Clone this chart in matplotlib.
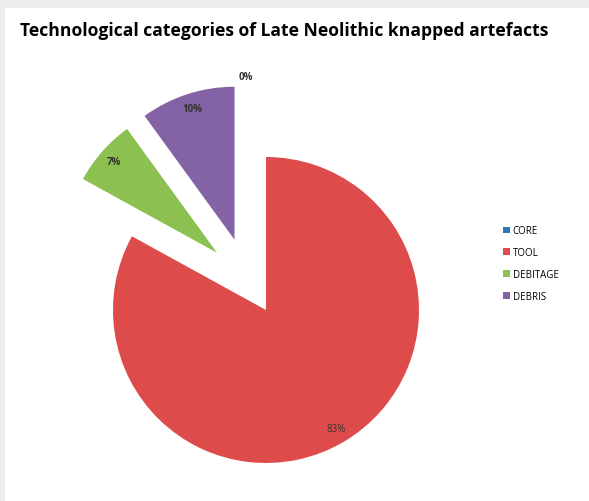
import matplotlib.pyplot as plt
from matplotlib.patches import Rectangle, Patch

# technological categories, percentages of the knapped assemblage
categories = ['CORE', 'TOOL', 'DEBITAGE', 'DEBRIS']
shares = [0, 83, 7, 10]
colors = ['#2E75B6', '#DE4B4B', '#8CC051', '#8462A6']
explode = [96, 0, 76, 76]            # in pixel units, as the axes are drawn in pixels
nudge = [(0, 0), (0, 0), (8, 7), (-8, -2)]   # extra pixel shift of pulled-out slices

W, H = 589, 502
fig = plt.figure(figsize=(W / 100, H / 100), dpi=100, facecolor='white')
# grey frame strips on the left and top edges
fig.patches.append(Rectangle((0, 0), 5 / W, 1, transform=fig.transFigure,
                             facecolor='#ececec', edgecolor='none'))
fig.patches.append(Rectangle((0, 1 - 9 / H), 1, 9 / H, transform=fig.transFigure,
                             facecolor='#ececec', edgecolor='none'))

ax = fig.add_axes([0, 0, 1, 1])
ax.set_xlim(0, W)
ax.set_ylim(0, H)
ax.set_aspect('equal')
ax.axis('off')

wedges, texts, pcts = ax.pie(shares, colors=colors, explode=explode,
                             center=(266, H - 311), radius=153,
                             startangle=90, counterclock=False,
                             autopct='%1.0f%%', pctdistance=0.9,
                             textprops=dict(fontsize=7, color='#333333',
                                            family='Open Sans'),
                             wedgeprops=dict(linewidth=0))
ax.set_xlim(0, W)
ax.set_ylim(0, H)

for w, t, (dx, dy) in zip(wedges, pcts, nudge):
    cx, cy = w.center
    w.set_center((cx + dx, cy + dy))
    tx, ty = t.get_position()
    t.set_position((tx + dx, ty + dy))
for t in pcts[:1] + pcts[2:]:
    t.set_fontweight('bold')
# zero slice label sits a bit left of the vertical edge
x0, y0 = pcts[0].get_position()
pcts[0].set_position((x0 - 20, y0))

ax.text(20, H - 31, 'Technological categories of Late Neolithic knapped artefacts',
        fontsize=12.6, fontweight='bold', family='Open Sans',
        ha='left', va='center', color='black')

handles = [Patch(facecolor=c, edgecolor='none') for c in colors]
ax.legend(handles, categories, loc='center left',
          bbox_to_anchor=(503, H - 264.5), bbox_transform=ax.transData,
          frameon=False, borderpad=0, borderaxespad=0,
          handlelength=0.7, handleheight=0.7, handletextpad=0.3,
          labelspacing=1.1, prop=dict(size=7, family='Open Sans'))

fig.savefig('out.png', dpi=100, facecolor='white')
